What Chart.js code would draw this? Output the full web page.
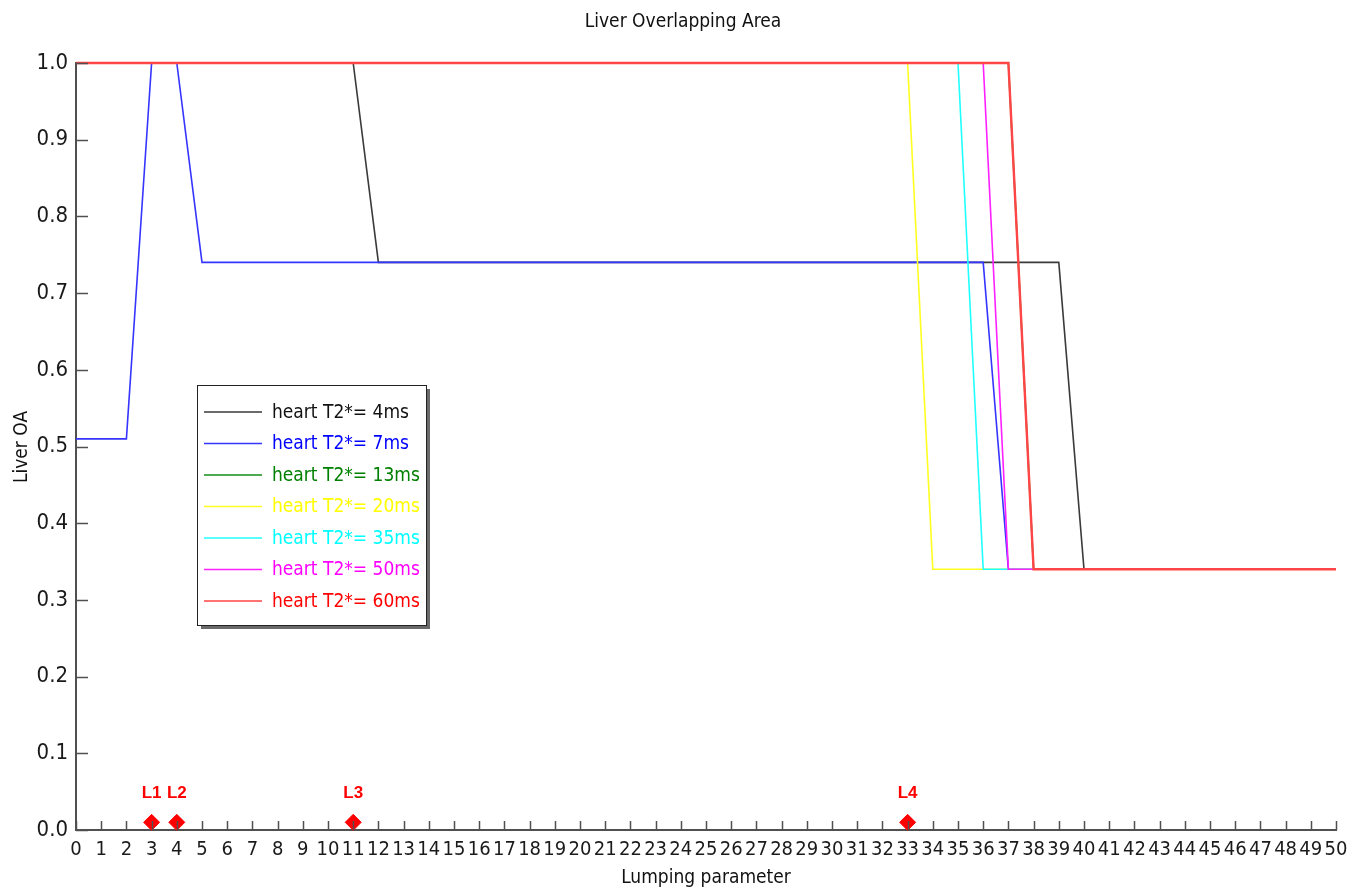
<!DOCTYPE html>
<html>
<head>
<meta charset="utf-8">
<title>Liver Overlapping Area</title>
<script src="https://cdn.jsdelivr.net/npm/chart.js@4/dist/chart.umd.min.js"></script>
<style>
  html, body { margin: 0; padding: 0; background: #fff; }
  #wrap { width: 1367px; height: 893px; position: relative; }
</style>
</head>
<body>
<div id="wrap"><canvas id="c" width="1367" height="893"></canvas></div>
<script>
// Lumping parameter values (x axis)
const lumping = [0,1,2,3,4,5,6,7,8,9,10,11,12,13,14,15,16,17,18,19,20,21,22,23,24,25,
  26,27,28,29,30,31,32,33,34,35,36,37,38,39,40,41,42,43,44,45,46,47,48,49,50];

// Liver overlapping area for each heart T2* value
const oa4ms  = [1,1,1,1,1,1,1,1,1,1,1,1,
  0.74,0.74,0.74,0.74,0.74,0.74,0.74,0.74,0.74,0.74,0.74,0.74,0.74,0.74,0.74,0.74,0.74,0.74,0.74,0.74,0.74,0.74,0.74,0.74,0.74,0.74,0.74,0.74,
  0.34,0.34,0.34,0.34,0.34,0.34,0.34,0.34,0.34,0.34,0.34];
const oa7ms  = [0.51,0.51,0.51,1,1,
  0.74,0.74,0.74,0.74,0.74,0.74,0.74,0.74,0.74,0.74,0.74,0.74,0.74,0.74,0.74,0.74,0.74,0.74,0.74,0.74,0.74,0.74,0.74,0.74,0.74,0.74,0.74,0.74,0.74,0.74,0.74,0.74,
  0.34,0.34,0.34,0.34,0.34,0.34,0.34,0.34,0.34,0.34,0.34,0.34,0.34,0.34];
const oa13ms = [1,1,1,1,1,1,1,1,1,1,1,1,1,1,1,1,1,1,1,1,1,1,1,1,1,1,1,1,1,1,1,1,1,1,1,1,1,1,
  0.34,0.34,0.34,0.34,0.34,0.34,0.34,0.34,0.34,0.34,0.34,0.34,0.34];
const oa20ms = [1,1,1,1,1,1,1,1,1,1,1,1,1,1,1,1,1,1,1,1,1,1,1,1,1,1,1,1,1,1,1,1,1,1,
  0.34,0.34,0.34,0.34,0.34,0.34,0.34,0.34,0.34,0.34,0.34,0.34,0.34,0.34,0.34,0.34,0.34];
const oa35ms = [1,1,1,1,1,1,1,1,1,1,1,1,1,1,1,1,1,1,1,1,1,1,1,1,1,1,1,1,1,1,1,1,1,1,1,1,
  0.34,0.34,0.34,0.34,0.34,0.34,0.34,0.34,0.34,0.34,0.34,0.34,0.34,0.34,0.34];
const oa50ms = [1,1,1,1,1,1,1,1,1,1,1,1,1,1,1,1,1,1,1,1,1,1,1,1,1,1,1,1,1,1,1,1,1,1,1,1,1,
  0.34,0.34,0.34,0.34,0.34,0.34,0.34,0.34,0.34,0.34,0.34,0.34,0.34,0.34];
const oa60ms = [1,1,1,1,1,1,1,1,1,1,1,1,1,1,1,1,1,1,1,1,1,1,1,1,1,1,1,1,1,1,1,1,1,1,1,1,1,1,
  0.34,0.34,0.34,0.34,0.34,0.34,0.34,0.34,0.34,0.34,0.34,0.34,0.34];

const seriesNames  = ['heart T2*= 4ms','heart T2*= 7ms','heart T2*= 13ms','heart T2*= 20ms',
                      'heart T2*= 35ms','heart T2*= 50ms','heart T2*= 60ms'];
const seriesValues = [oa4ms, oa7ms, oa13ms, oa20ms, oa35ms, oa50ms, oa60ms];
const lineColors   = ['#3a3a3a','#3535ff','#148c14','#ffff20','#20ffff','#ff20ff','#ff4545'];
const textColors   = ['#111111','#0000ff','#008000','#ffff00','#00ffff','#ff00ff','#ff0000'];

// Highlighted lumping levels
const markerX     = [3, 4, 11, 33];
const markerY     = [0.01, 0.01, 0.01, 0.01];
const markerNames = ['L1', 'L2', 'L3', 'L4'];

// Axis ticks
const yTickValues = [0,0.1,0.2,0.3,0.4,0.5,0.6,0.7,0.8,0.9,1.0];

const NARROW = "'Liberation Sans Narrow', 'DejaVu Sans Condensed', 'Liberation Sans', sans-serif";
const AXIS_COLOR = '#505050';

const datasets = seriesValues.map((vals, i) => ({
  label: seriesNames[i],
  data: lumping.map((x, k) => ({ x: x, y: vals[k] })),
  borderColor: lineColors[i],
  backgroundColor: lineColors[i],
  borderWidth: i === 6 ? 2.4 : 1.6,
  pointRadius: 0,
  tension: 0,
  fill: false,
  clip: false,
  order: 10 - i
}));

datasets.push({
  type: 'scatter',
  label: 'levels',
  data: markerX.map((x, k) => ({ x: x, y: markerY[k] })),
  pointStyle: 'rectRot',
  pointRadius: 8,
  pointHoverRadius: 8,
  backgroundColor: '#ff0000',
  borderColor: '#ff0000',
  borderWidth: 1,
  showLine: false,
  clip: false,
  order: 0
});

const decorations = {
  id: 'decorations',
  afterDatasetsDraw(chart) {
    const ctx = chart.ctx;
    const xs = chart.scales.x, ys = chart.scales.y;
    const area = chart.chartArea;
    ctx.save();
    // inward tick marks
    ctx.strokeStyle = AXIS_COLOR;
    ctx.lineWidth = 1.5;
    ctx.beginPath();
    lumping.forEach(v => {
      const px = Math.round(xs.getPixelForValue(v)) + 0.5;
      ctx.moveTo(px, area.bottom);
      ctx.lineTo(px, area.bottom - 9);
    });
    yTickValues.forEach(v => {
      const py = Math.round(ys.getPixelForValue(v)) + 0.5;
      ctx.moveTo(area.left, py);
      ctx.lineTo(area.left + 12, py);
    });
    ctx.stroke();

    // level labels above the markers
    const meta = chart.getDatasetMeta(chart.data.datasets.length - 1);
    ctx.fillStyle = '#ff0000';
    ctx.font = "bold 17px 'Liberation Sans', Arial, sans-serif";
    ctx.textAlign = 'center';
    ctx.textBaseline = 'middle';
    meta.data.forEach((pt, k) => {
      ctx.fillText(markerNames[k], pt.x, pt.y - 29);
    });
    ctx.restore();
  },
  afterDraw(chart) {
    const ctx = chart.ctx;
    const area = chart.chartArea;
    ctx.save();
    // title and axis titles
    ctx.fillStyle = '#111';
    ctx.textAlign = 'center';
    ctx.textBaseline = 'middle';
    ctx.font = '19px ' + NARROW;
    ctx.fillText('Liver Overlapping Area', 683, 22);
    ctx.font = '19px ' + NARROW;
    ctx.fillText('Lumping parameter', (area.left + area.right) / 2, 878);
    ctx.save();
    ctx.translate(22, 447);
    ctx.rotate(-Math.PI / 2);
    ctx.fillText('Liver OA', 0, 0);
    ctx.restore();

    // legend box with drop shadow
    const bx = 197, by = 385, bw = 229, bh = 240;
    ctx.fillStyle = '#6a6a6a';
    ctx.fillRect(bx + 4, by + 4, bw, bh);
    ctx.fillStyle = '#ffffff';
    ctx.fillRect(bx, by, bw, bh);
    ctx.strokeStyle = '#222';
    ctx.lineWidth = 1;
    ctx.strokeRect(bx + 0.5, by + 0.5, bw, bh);
    ctx.textAlign = 'left';
    ctx.font = '19px ' + NARROW;
    seriesNames.forEach((name, i) => {
      const y = 412 + i * 31.5;
      ctx.strokeStyle = lineColors[i];
      ctx.lineWidth = 1.6;
      ctx.beginPath();
      ctx.moveTo(204, y);
      ctx.lineTo(262, y);
      ctx.stroke();
      ctx.fillStyle = textColors[i];
      ctx.fillText(name, 272, y + 1);
    });
    ctx.restore();
  }
};

new Chart(document.getElementById('c'), {
  type: 'line',
  data: { datasets: datasets },
  options: {
    responsive: false,
    animation: false,
    events: [],
    layout: { padding: { top: 63, right: 31, bottom: 0, left: 0 } },
    plugins: {
      legend: { display: false },
      title: { display: false },
      tooltip: { enabled: false }
    },
    scales: {
      x: {
        type: 'linear',
        min: 0, max: 50,
        afterFit(scale) { scale.height = 63; },
        afterBuildTicks(scale) { scale.ticks = lumping.map(v => ({ value: v })); },
        grid: { display: true, drawOnChartArea: false, drawTicks: false },
        border: { display: true, color: AXIS_COLOR, width: 2 },
        ticks: {
          autoSkip: false, maxRotation: 0, minRotation: 0, padding: 8,
          color: '#1a1a1a',
          font: { family: NARROW, size: 20 },
          callback: v => String(v)
        }
      },
      y: {
        type: 'linear',
        min: 0, max: 1,
        afterFit(scale) { scale.width = 76; },
        afterBuildTicks(scale) { scale.ticks = yTickValues.map(v => ({ value: v })); },
        grid: { display: true, drawOnChartArea: false, drawTicks: false },
        border: { display: true, color: AXIS_COLOR, width: 2 },
        ticks: {
          padding: 8,
          color: '#1a1a1a',
          font: { family: NARROW, size: 22 },
          callback: v => Number(v).toFixed(1)
        }
      }
    }
  },
  plugins: [decorations]
});
</script>
</body>
</html>
